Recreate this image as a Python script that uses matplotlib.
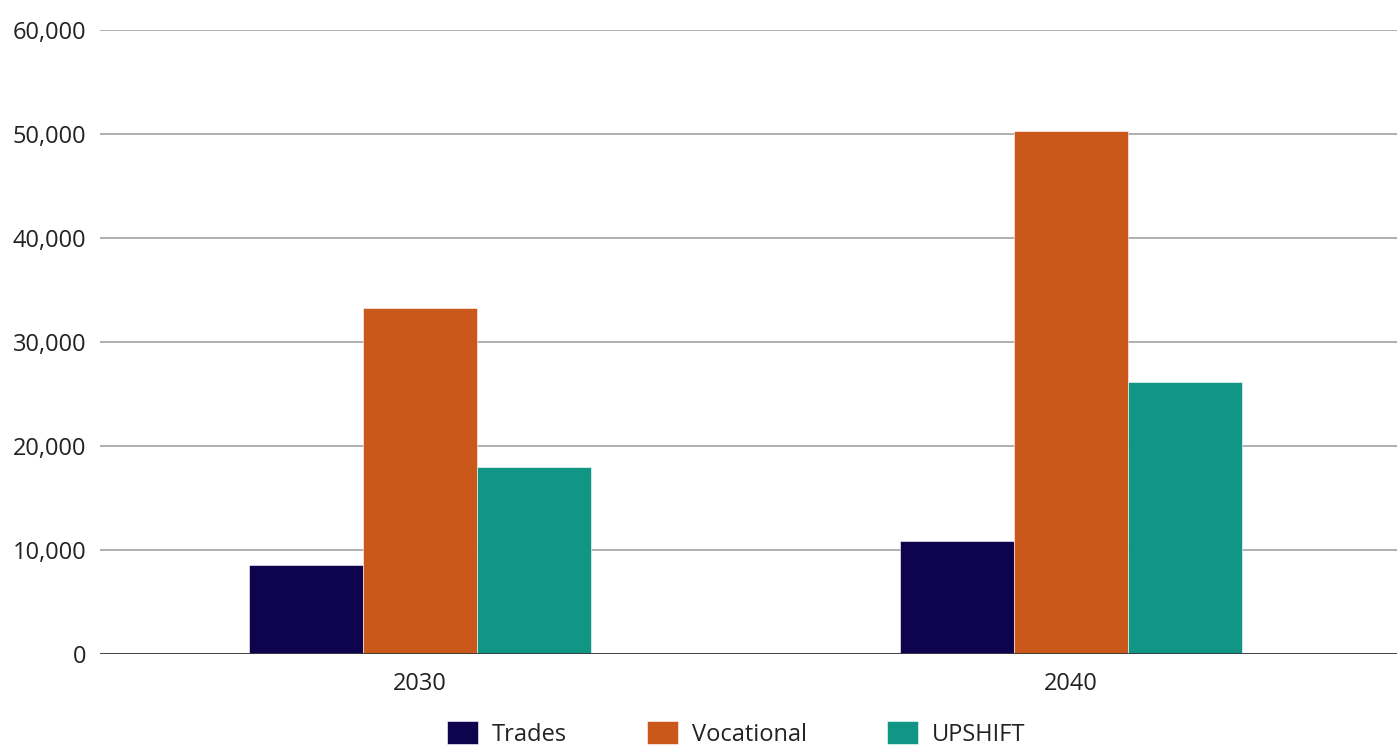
import numpy as np
import matplotlib.pyplot as plt
from matplotlib.ticker import FuncFormatter

plt.rcParams['font.family'] = ['Open Sans', 'DejaVu Sans']

# ======== DATA ========
years = ["2030", "2040"]
series_names = ["Trades", "Vocational", "UPSHIFT"]
trades = [8600, 10900]
vocational = [33300, 50300]
upshift = [18000, 26200]
colors = ["#0E034D", "#C9581A", "#119685"]

# ======== PLOT ========
fig = plt.figure(figsize=(13.97, 7.54), dpi=100)
ax = fig.add_axes([100 / 1397, 1 - 654 / 754, 1297 / 1397, 624 / 754])

x = np.arange(len(years))
width = 0.175
for k, (name, vals) in enumerate(zip(series_names, [trades, vocational, upshift])):
    ax.bar(x + (k - 1) * width, vals, width, color=colors[k], label=name,
           edgecolor="white", linewidth=0.4, zorder=3)

ax.set_xlim(-0.491, 1.5)
ax.set_ylim(0, 60000)
ax.set_yticks(np.arange(0, 60001, 10000))
ax.yaxis.set_major_formatter(FuncFormatter(lambda v, p: f"{int(v):,}"))
ax.set_xticks(x)
ax.set_xticklabels(years)

ax.grid(axis="y", color="#9a9a9a", linewidth=1.1, zorder=0)
ax.axhline(0, color="#3a3a3a", linewidth=2.0, zorder=4)
for s in ax.spines.values():
    s.set_visible(False)
ax.tick_params(axis="both", length=0, labelsize=17, colors="#222222")
ax.tick_params(axis="y", pad=10)
ax.tick_params(axis="x", pad=13)

fig.legend(loc="upper center", bbox_to_anchor=(0.527, 0.062), ncol=3, frameon=False,
           fontsize=17, handlelength=1.3, handleheight=1.1, columnspacing=3.4,
           handletextpad=0.6, labelcolor="#222222", borderaxespad=0.2)

plt.savefig("out.png", dpi=100)
